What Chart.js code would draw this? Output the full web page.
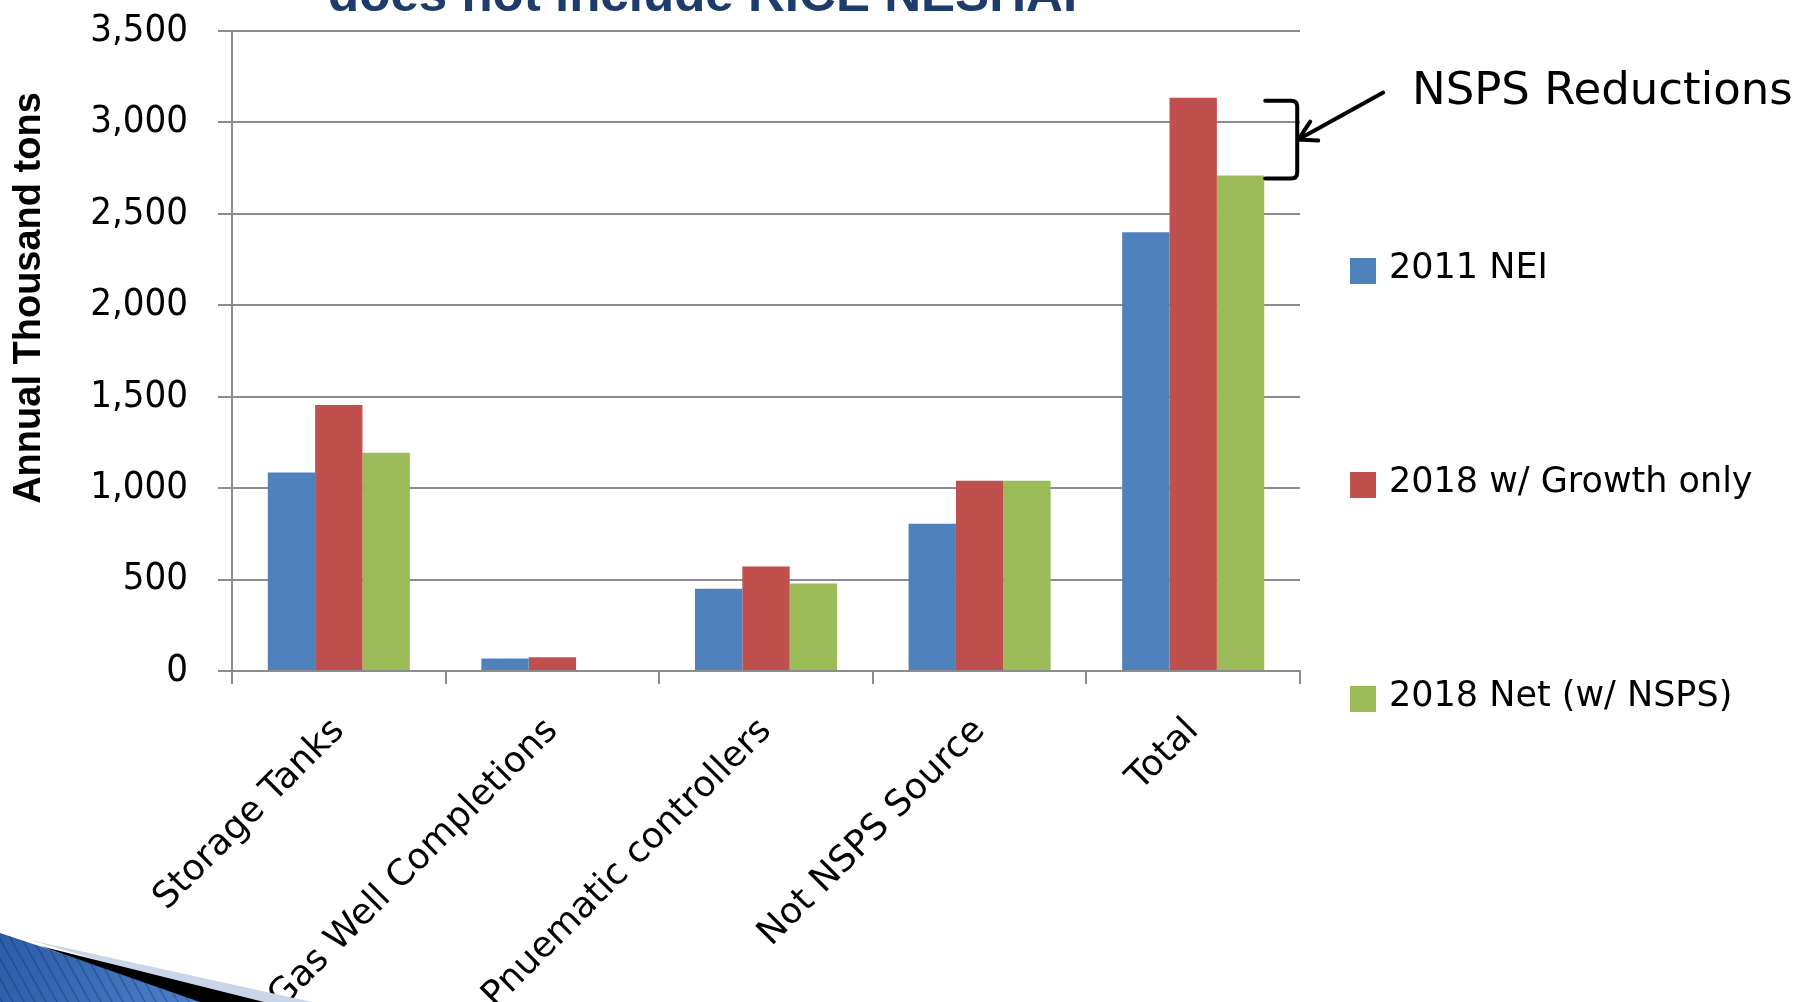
<!DOCTYPE html>
<html>
<head>
<meta charset="utf-8">
<script src="https://cdn.jsdelivr.net/npm/chart.js@4.4.0/dist/chart.umd.min.js"></script>
<style>
  html, body { margin: 0; padding: 0; background: #fff; overflow: hidden; }
  canvas { display: block; }
</style>
</head>
<body>
<canvas id="chart" width="1820" height="1002"></canvas>
<script>
const categories = ['Storage Tanks', 'Gas Well Completions', 'Pnuematic controllers', 'Not NSPS Source', 'Total'];
const nei2011 = [1085, 68, 450, 805, 2400];
const growth2018 = [1455, 75, 572, 1040, 3135];
const net2018 = [1193, 0, 478, 1040, 2710];
const seriesNames = ['2011 NEI', '2018 w/ Growth only', '2018 Net (w/ NSPS)'];
const seriesColors = ['#4F81BD', '#C0504D', '#9BBB59'];
const yMax = 3500;
const yStep = 500;

const gridGray = '#8c8c8c';

// everything drawn around the plot: cut title, axis title, legend, bracket, corner art
const decor = {
  id: 'decor',
  afterDraw(chart) {
    const ctx = chart.ctx;
    const y = chart.scales.y;

    // slide title, only its bottom shows
    ctx.save();
    ctx.fillStyle = '#1d3c6c';
    ctx.font = 'bold 50px "Liberation Sans"';
    ctx.textBaseline = 'alphabetic';
    const t = 'does not include RICE NESHAP';
    const w = ctx.measureText(t).width;
    ctx.translate(328, 11);
    ctx.scale(769 / w, 1);
    ctx.fillText(t, 0, 0);
    ctx.restore();

    // y axis title
    ctx.save();
    ctx.translate(30, 298);
    ctx.rotate(-Math.PI / 2);
    ctx.fillStyle = '#000';
    ctx.font = 'bold 38px "Liberation Sans"';
    ctx.textAlign = 'center';
    ctx.textBaseline = 'middle';
    ctx.fillText('Annual Thousand tons', 0, 0);
    ctx.restore();

    // legend
    const legendY = [278, 492, 706];
    ctx.save();
    ctx.font = '35px "DejaVu Sans"';
    ctx.textBaseline = 'alphabetic';
    chart.data.datasets.forEach((ds, i) => {
      ctx.fillStyle = ds.backgroundColor;
      ctx.fillRect(1350, legendY[i] - 20, 26, 26);
      ctx.fillStyle = '#000';
      ctx.fillText(ds.label, 1389, legendY[i]);
    });
    ctx.restore();

    // bracket on the Total bars
    const bar = chart.getDatasetMeta(2).data[4];
    const x0 = bar.x + bar.width / 2 + 1;
    const x1 = x0 + 32;
    const yTop = y.getPixelForValue(growth2018[4]) + 3;
    const yBot = y.getPixelForValue(net2018[4]) + 3;
    ctx.save();
    ctx.strokeStyle = '#000';
    ctx.lineWidth = 4;
    ctx.lineJoin = 'round';
    ctx.lineCap = 'round';
    ctx.beginPath();
    ctx.moveTo(x0, yTop);
    ctx.lineTo(x1 - 6, yTop);
    ctx.quadraticCurveTo(x1, yTop, x1, yTop + 6);
    ctx.lineTo(x1, yBot - 6);
    ctx.quadraticCurveTo(x1, yBot, x1 - 6, yBot);
    ctx.lineTo(x0, yBot);
    ctx.stroke();

    // arrow
    const tipX = x1 + 1, tipY = (yTop + yBot) / 2;
    ctx.beginPath();
    ctx.moveTo(tipX + 85, tipY - 47);
    ctx.lineTo(tipX, tipY);
    ctx.moveTo(tipX + 12, tipY - 18);
    ctx.lineTo(tipX, tipY);
    ctx.lineTo(tipX + 20, tipY + 1);
    ctx.stroke();

    ctx.font = '45px "DejaVu Sans"';
    ctx.fillStyle = '#000';
    ctx.textBaseline = 'alphabetic';
    ctx.fillText('NSPS Reductions', 1412, 104);
    ctx.restore();

    // corner decoration of the slide template
    ctx.save();
    ctx.fillStyle = '#c9d6ea';
    ctx.beginPath();
    ctx.moveTo(30, 940); ctx.lineTo(312, 1002); ctx.lineTo(240, 1002); ctx.closePath();
    ctx.fill();
    const grad = ctx.createLinearGradient(0, 930, 200, 1002);
    grad.addColorStop(0, '#2b5ca6');
    grad.addColorStop(1, '#4c80c8');
    ctx.fillStyle = grad;
    ctx.beginPath();
    ctx.moveTo(0, 933); ctx.lineTo(42, 947); ctx.lineTo(205, 1002); ctx.lineTo(0, 1002); ctx.closePath();
    ctx.fill();
    ctx.clip();
    ctx.strokeStyle = 'rgba(20, 40, 90, 0.35)';
    ctx.lineWidth = 1.5;
    for (let sx = -60; sx < 260; sx += 11) {
      ctx.beginPath();
      ctx.moveTo(sx, 930);
      ctx.lineTo(sx + 40, 1002);
      ctx.stroke();
    }
    ctx.restore();
    ctx.save();
    ctx.fillStyle = '#000';
    ctx.beginPath();
    ctx.moveTo(40, 946); ctx.lineTo(264, 1002); ctx.lineTo(200, 1002); ctx.closePath();
    ctx.fill();
    ctx.restore();
  }
};

new Chart(document.getElementById('chart'), {
  type: 'bar',
  data: {
    labels: categories,
    datasets: [
      { label: seriesNames[0], data: nei2011, backgroundColor: seriesColors[0] },
      { label: seriesNames[1], data: growth2018, backgroundColor: seriesColors[1] },
      { label: seriesNames[2], data: net2018, backgroundColor: seriesColors[2] }
    ]
  },
  options: {
    responsive: false,
    animation: false,
    devicePixelRatio: 1,
    layout: { padding: { top: 31, right: 520, left: 0, bottom: 0 } },
    datasets: { bar: { barPercentage: 1, categoryPercentage: 0.665, borderWidth: 0 } },
    plugins: { legend: { display: false }, tooltip: { enabled: false } },
    scales: {
      x: {
        afterFit(scale) { scale.height = 331; },
        border: { color: gridGray, width: 2 },
        grid: { drawOnChartArea: false, drawTicks: true, tickLength: 13, color: gridGray, lineWidth: 2 },
        ticks: {
          minRotation: 45, maxRotation: 45, autoSkip: false, padding: 26,
          color: '#000', font: { family: '"DejaVu Sans"', size: 36 }
        }
      },
      y: {
        min: 0, max: yMax,
        afterFit(scale) {
          scale.width = 232;
          scale.paddingTop = 0;
          scale.paddingBottom = 0;
        },
        border: { color: gridGray, width: 2 },
        grid: { color: gridGray, lineWidth: 2, tickLength: 14 },
        ticks: {
          stepSize: yStep, padding: 30, color: '#000',
          font: { family: '"DejaVu Sans Condensed"', size: 38 },
          callback: v => v.toLocaleString('en-US')
        }
      }
    }
  },
  plugins: [decor]
});
</script>
</body>
</html>
